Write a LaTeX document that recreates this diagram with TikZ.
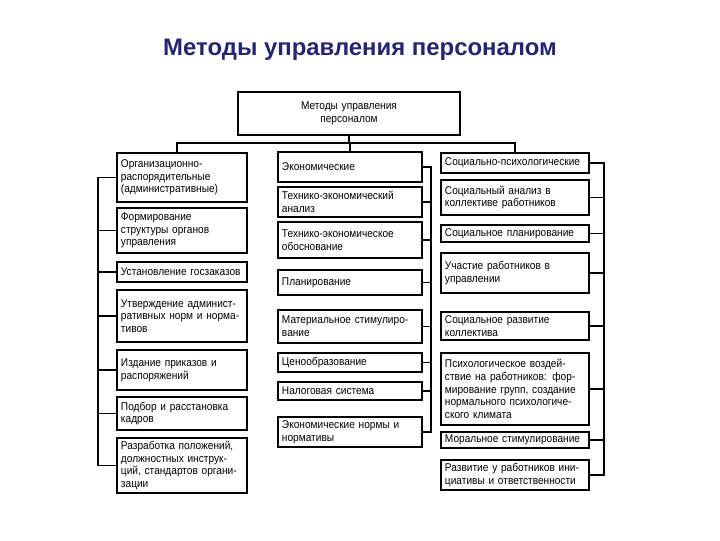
\documentclass[tikz,border=0pt]{standalone}
\usepackage{fontspec}
\setmainfont{Liberation Sans}
\newfontfamily\narrowfont{Liberation Sans}[FakeStretch=0.9]
\usepackage{xcolor}
\definecolor{titleblue}{RGB}{38,38,112}
\usetikzlibrary{calc,positioning}
\tikzset{
  mnode/.style={
    rectangle,
    draw=black,
    line width=1.1pt,
    fill=white,
    inner xsep=0.1cm,
    inner ysep=1pt,
    align=left,
    font=\narrowfont\fontsize{8}{9}\selectfont
  },
  lcol/.style={mnode, text width=3.05cm},
  mcol/.style={mnode, text width=3.4cm},
  rcol/.style={mnode, text width=3.5cm},
  bh/.style={minimum height=#1*0.025cm},
  link/.style={
    line width=0.9pt
  },
  ttl/.style={
    font=\bfseries\fontsize{17}{20}\selectfont,
    text=titleblue
  }
}
\def\busL{98}
\def\busM{431}
\def\busR{604}

\begin{document}
\begin{tikzpicture}[x=0.025cm, y=-0.025cm]
  % page frame 720 x 540
  \useasboundingbox (0,0) rectangle (720,540);

  \node[ttl] (title) at (360,50) {Методы управления персоналом};

  \node[mnode, align=center, text width=5.35cm, bh=43] (top) at (349,113.5) {Методы управления\\персоналом};

  % left column
  \node[lcol, bh=49] (L1) at (182,177.5) {Организационно-\\распорядительные\\(административные)};
  \node[lcol, bh=45] (L2) at (182,230.5) {Формирование\\структуры органов\\управления};
  \node[lcol, bh=20] (L3) at (182,272)   {Установление госзаказов};
  \node[lcol, bh=52] (L4) at (182,316)   {Утверждение админист-\\ративных норм и норма-\\тивов};
  \node[lcol, bh=40] (L5) at (182,370)   {Издание приказов и\\распоряжений};
  \node[lcol, bh=33] (L6) at (182,413.5) {Подбор и расстановка\\кадров};
  \node[lcol, bh=55] (L7) at (182,465.5) {Разработка положений,\\должностных инструк-\\ций, стандартов органи-\\зации};

  % middle column
  \node[mcol, bh=30] (M1) at (350,167)   {Экономические};
  \node[mcol, bh=30] (M2) at (350,202)   {Технико-экономический\\анализ};
  \node[mcol, bh=36] (M3) at (350,240)   {Технико-экономическое\\обоснование};
  \node[mcol, bh=25] (M4) at (350,282.5) {Планирование};
  \node[mcol, bh=33] (M5) at (350,326.5) {Материальное стимулиро-\\вание};
  \node[mcol, bh=19] (M6) at (350,362.5) {Ценообразование};
  \node[mcol, bh=18] (M7) at (350,391)   {Налоговая система};
  \node[mcol, bh=30] (M8) at (350,432)   {Экономические нормы и\\нормативы};

  % right column
  \node[rcol, bh=20] (R1) at (515,163)   {Социально-психологические};
  \node[rcol, bh=35] (R2) at (515,197.5) {Социальный анализ в\\коллективе работников};
  \node[rcol, bh=17] (R3) at (515,233.5) {Социальное планирование};
  \node[rcol, bh=40] (R4) at (515,273)   {Участие работников в\\управлении};
  \node[rcol, bh=28] (R5) at (515,326)   {Социальное развитие\\коллектива};
  \node[rcol, bh=72] (R6) at (515,389)   {Психологическое воздей-\\ствие на работников: фор-\\мирование групп, создание\\нормального психологиче-\\ского климата};
  \node[rcol, bh=16] (R7) at (515,440)   {Моральное стимулирование};
  \node[rcol, bh=30] (R8) at (515,475)   {Развитие у работников ини-\\циативы и ответственности};

  % top bus
  \coordinate (jL) at (177,143);
  \draw[link] (top.south) -- (top.south |- jL);
  \draw[link] (L1.north -| jL) -- (jL) -- (jL -| R1.north) -- (R1.north);
  \draw[link] (M1.north) -- (M1.north |- jL);

  % column buses
  \coordinate (bL) at (\busL,0);
  \coordinate (bM) at (\busM,0);
  \coordinate (bR) at (\busR,0);
  \draw[link] (L1.west) -- (L1.west -| bL) -- (L7.west -| bL) -- (L7.west);
  \foreach \n in {2,...,6}
    \draw[link] (L\n.west) -- (L\n.west -| bL);
  \draw[link] (M1.east) -- (M1.east -| bM) -- (M8.east -| bM) -- (M8.east);
  \foreach \n in {2,...,7}
    \draw[link] (M\n.east) -- (M\n.east -| bM);
  \draw[link] (R1.east) -- (R1.east -| bR) -- (R8.east -| bR) -- (R8.east);
  \foreach \n in {2,...,7}
    \draw[link] (R\n.east) -- (R\n.east -| bR);
\end{tikzpicture}
\end{document}
